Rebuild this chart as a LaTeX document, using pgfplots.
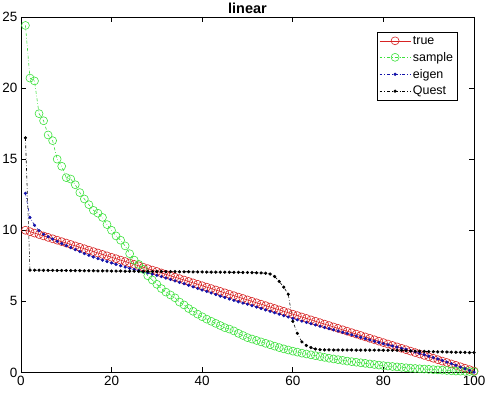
\documentclass[border=0pt]{standalone}
\usepackage{pgfplots}
\usepackage{pgfplotstable}
\usepackage{fontspec}
\setmainfont{Liberation Sans}
\pgfplotsset{compat=1.18}
\usetikzlibrary{calc}
\definecolor{cTrue}{RGB}{215,35,35}
\definecolor{cSample}{RGB}{60,225,60}
\definecolor{cEigen}{RGB}{20,20,170}
\definecolor{cQuest}{RGB}{0,0,0}

\pgfplotstableread{
i true sample eigen quest
1 10.0 24.4 12.6 16.5
2 9.9 20.7 10.9 7.20
3 9.8 20.5 10.35 7.19
4 9.7 18.2 9.97 7.19
5 9.6 17.7 9.72 7.18
6 9.5 16.7 9.55 7.18
7 9.4 16.3 9.38 7.18
8 9.3 15.0 9.22 7.17
9 9.2 14.5 9.06 7.17
10 9.1 13.7 8.92 7.17
11 9.0 13.6 8.78 7.16
12 8.9 13.2 8.64 7.16
13 8.8 12.65 8.50 7.16
14 8.7 12.2 8.36 7.15
15 8.6 11.8 8.24 7.15
16 8.5 11.4 8.12 7.15
17 8.4 11.2 8.01 7.14
18 8.3 10.9 7.90 7.14
19 8.2 10.4 7.80 7.14
20 8.1 10.0 7.70 7.13
21 8.0 9.6 7.60 7.13
22 7.9 9.3 7.50 7.13
23 7.8 8.9 7.41 7.12
24 7.7 8.35 7.32 7.12
25 7.6 7.9 7.24 7.12
26 7.5 7.6 7.16 7.11
27 7.4 7.25 7.08 7.11
28 7.3 6.8 7.00 7.11
29 7.2 6.5 6.92 7.10
30 7.1 6.2 6.83 7.10
31 7.0 5.9 6.74 7.10
32 6.9 5.65 6.64 7.09
33 6.8 5.45 6.54 7.09
34 6.7 5.25 6.44 7.09
35 6.6 4.95 6.34 7.08
36 6.5 4.75 6.24 7.08
37 6.4 4.5 6.13 7.08
38 6.3 4.3 6.02 7.07
39 6.2 4.1 5.91 7.07
40 6.1 3.92 5.80 7.07
41 6.0 3.75 5.70 7.06
42 5.9 3.6 5.59 7.06
43 5.8 3.45 5.48 7.06
44 5.7 3.3 5.37 7.05
45 5.6 3.15 5.27 7.05
46 5.5 3.05 5.17 7.05
47 5.4 2.92 5.07 7.04
48 5.3 2.75 4.97 7.04
49 5.2 2.6 4.88 7.03
50 5.1 2.45 4.80 7.03
51 5.0 2.35 4.70 7.02
52 4.9 2.25 4.60 7.01
53 4.8 2.15 4.50 7.00
54 4.7 2.05 4.40 6.98
55 4.6 1.95 4.30 6.92
56 4.5 1.85 4.20 6.75
57 4.4 1.75 4.10 6.40
58 4.3 1.66 4.00 6.00
59 4.2 1.58 3.90 5.50
60 4.1 1.50 3.80 3.60
61 4.0 1.43 3.70 2.75
62 3.9 1.36 3.61 2.15
63 3.8 1.30 3.52 1.90
64 3.7 1.24 3.43 1.75
65 3.6 1.18 3.34 1.65
66 3.5 1.12 3.25 1.60
67 3.4 1.06 3.16 1.59
68 3.3 1.00 3.08 1.59
69 3.2 0.95 3.00 1.58
70 3.1 0.90 2.92 1.58
71 3.0 0.85 2.83 1.58
72 2.9 0.80 2.74 1.58
73 2.8 0.76 2.65 1.58
74 2.7 0.72 2.56 1.57
75 2.6 0.68 2.47 1.57
76 2.5 0.64 2.38 1.57
77 2.4 0.60 2.29 1.57
78 2.3 0.56 2.20 1.57
79 2.2 0.52 2.11 1.57
80 2.1 0.48 2.02 1.56
81 2.0 0.45 1.94 1.56
82 1.9 0.42 1.86 1.56
83 1.8 0.39 1.78 1.56
84 1.7 0.36 1.70 1.56
85 1.6 0.33 1.62 1.52
86 1.5 0.30 1.53 1.51
87 1.4 0.28 1.44 1.50
88 1.3 0.26 1.35 1.49
89 1.2 0.24 1.25 1.48
90 1.1 0.22 1.15 1.47
91 1.0 0.20 1.05 1.46
92 0.9 0.18 0.95 1.45
93 0.8 0.16 0.84 1.45
94 0.7 0.14 0.73 1.44
95 0.6 0.12 0.62 1.43
96 0.5 0.10 0.50 1.42
97 0.4 0.09 0.38 1.42
98 0.3 0.08 0.26 1.41
99 0.2 0.07 0.14 1.40
100 0.1 0.06 0.02 1.40
}\datatable

\begin{document}
\begin{tikzpicture}
\begin{axis}[
  scale only axis,
  width=455pt, height=357pt,
  xmin=0, xmax=100, ymin=0, ymax=25,
  xtick={0,20,...,100}, ytick={0,5,...,25},
  tick align=inside, major tick length=5pt,
  tick style={black, line width=0.6pt},
  axis line style={line width=0.6pt},
  /pgf/number format/assume math mode=true,
  tick label style={font=\fontsize{13.5}{15}\selectfont},
  xticklabel style={yshift=0pt},
  title={\bfseries linear},
  title style={font=\fontsize{14.5}{16}\selectfont, yshift=-6pt},
  legend style={at={(0.963,0.958)}, anchor=north east, draw=black,
    font=\fontsize{12.5}{14}\selectfont, inner sep=2pt,
    row sep=2.5pt, cells={anchor=west}},
  legend cell align=left,
  legend image code/.code={\draw[mark repeat=2,mark phase=2] plot coordinates {(0cm,0cm) (0.55cm,0cm) (1.1cm,0cm)};},
]
\coordinate (bl) at (rel axis cs:0,0);
\coordinate (tr) at (rel axis cs:1,1);
\addplot[cTrue, line width=0.6pt, mark=o, mark size=4pt] table[x=i, y=true] {\datatable};
\addlegendentry{true}
\addplot[cSample, line width=0.6pt, dash dot, mark=o, mark size=4pt, mark options={solid}] table[x=i, y=sample] {\datatable};
\addlegendentry{sample}
\addplot[cEigen, line width=0.6pt, dash dot, mark=*, mark size=1.3pt, mark options={solid}] table[x=i, y=eigen] {\datatable};
\addlegendentry{eigen}
\addplot[cQuest, line width=0.6pt, dash dot, mark=*, mark size=1.3pt, mark options={solid}] table[x=i, y=quest] {\datatable};
\addlegendentry{Quest}
\end{axis}
\pgfresetboundingbox
\useasboundingbox ($(bl)+(-21pt,-22pt)$) rectangle ($(tr)+(11pt,17pt)$);
\end{tikzpicture}
\end{document}
